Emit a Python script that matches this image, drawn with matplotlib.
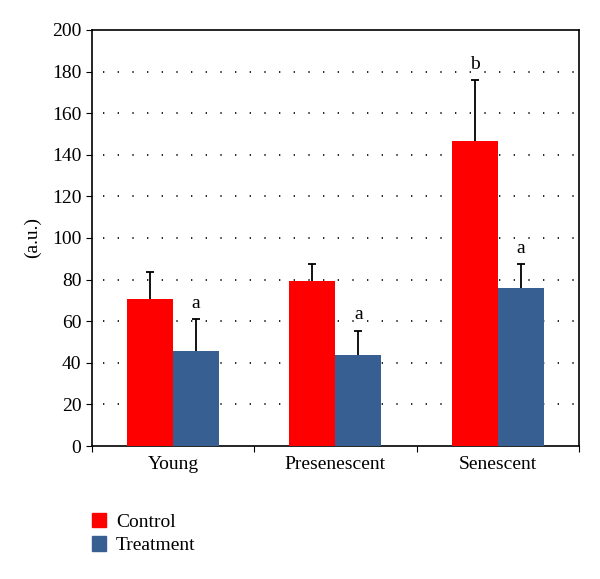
import numpy as np
import matplotlib
matplotlib.use("Agg")
from matplotlib import pyplot as plt
from matplotlib.patches import Patch

plt.rcParams['font.family'] = ['Liberation Serif', 'DejaVu Serif']

groups = ['Young', 'Presenescent', 'Senescent']
control = [70.8, 79.3, 146.6]
control_err = [12.9, 8.1, 29.2]
treatment = [45.7, 43.6, 76.0]
treatment_err = [15.2, 11.8, 11.6]
control_marks = ['', '', 'b']
treatment_marks = ['a', 'a', 'a']

red = '#ff0000'
blue = '#375f91'

fig = plt.figure(figsize=(6, 5.79), dpi=100)
ax = fig.add_axes([0.153, 0.2297, 0.812, 0.7185])

x = np.arange(len(groups)) + 0.5
w = 0.283
cap = 0.025
ax.bar(x - w / 2, control, w, color=red, zorder=3)
ax.bar(x + w / 2, treatment, w, color=blue, zorder=3)

# upper error bars only
for xs, vals, errs in [(x - w / 2, control, control_err), (x + w / 2, treatment, treatment_err)]:
    tops = np.array(vals) + np.array(errs)
    ax.vlines(xs, vals, tops, color='black', linewidth=1.3, zorder=4)
    ax.hlines(tops, xs - cap, xs + cap, color='black', linewidth=1.3, zorder=4)

for i in range(len(groups)):
    if control_marks[i]:
        ax.text(x[i] - w / 2, control[i] + control_err[i] + 3.5, control_marks[i],
                ha='center', va='bottom', fontsize=14)
    ax.text(x[i] + w / 2, treatment[i] + treatment_err[i] + 3.5, treatment_marks[i],
            ha='center', va='bottom', fontsize=14)

for yv in range(20, 200, 20):
    ax.plot([0.07, 2.98], [yv, yv], color='black', linewidth=1.2,
            linestyle=(0, (0.8, 8)), zorder=1)

ax.set_xlim(0, 3)
ax.set_ylim(0, 200)
ax.set_yticks(range(0, 201, 20))
ax.set_xticks([0, 1, 2, 3])
ax.set_xticklabels([])
ax.set_xticks(x, minor=True)
ax.set_xticklabels(groups, minor=True, fontsize=14)
ax.tick_params(axis='x', which='minor', length=0, pad=7)
ax.tick_params(axis='x', which='major', length=4, direction='out')
ax.tick_params(axis='y', length=4, direction='out', labelsize=14)
ax.set_ylabel('(a.u.)', fontsize=14, labelpad=8)
for s in ax.spines.values():
    s.set_linewidth(1.2)

handles = [Patch(color=red, label='Control'), Patch(color=blue, label='Treatment')]
fig.legend(handles=handles, loc='upper left', bbox_to_anchor=(0.14, 0.128),
           frameon=False, fontsize=14, handlelength=0.75, handleheight=0.75,
           handletextpad=0.5, labelspacing=0.3, borderpad=0.4, borderaxespad=0)

fig.savefig('out.png', dpi=100)
